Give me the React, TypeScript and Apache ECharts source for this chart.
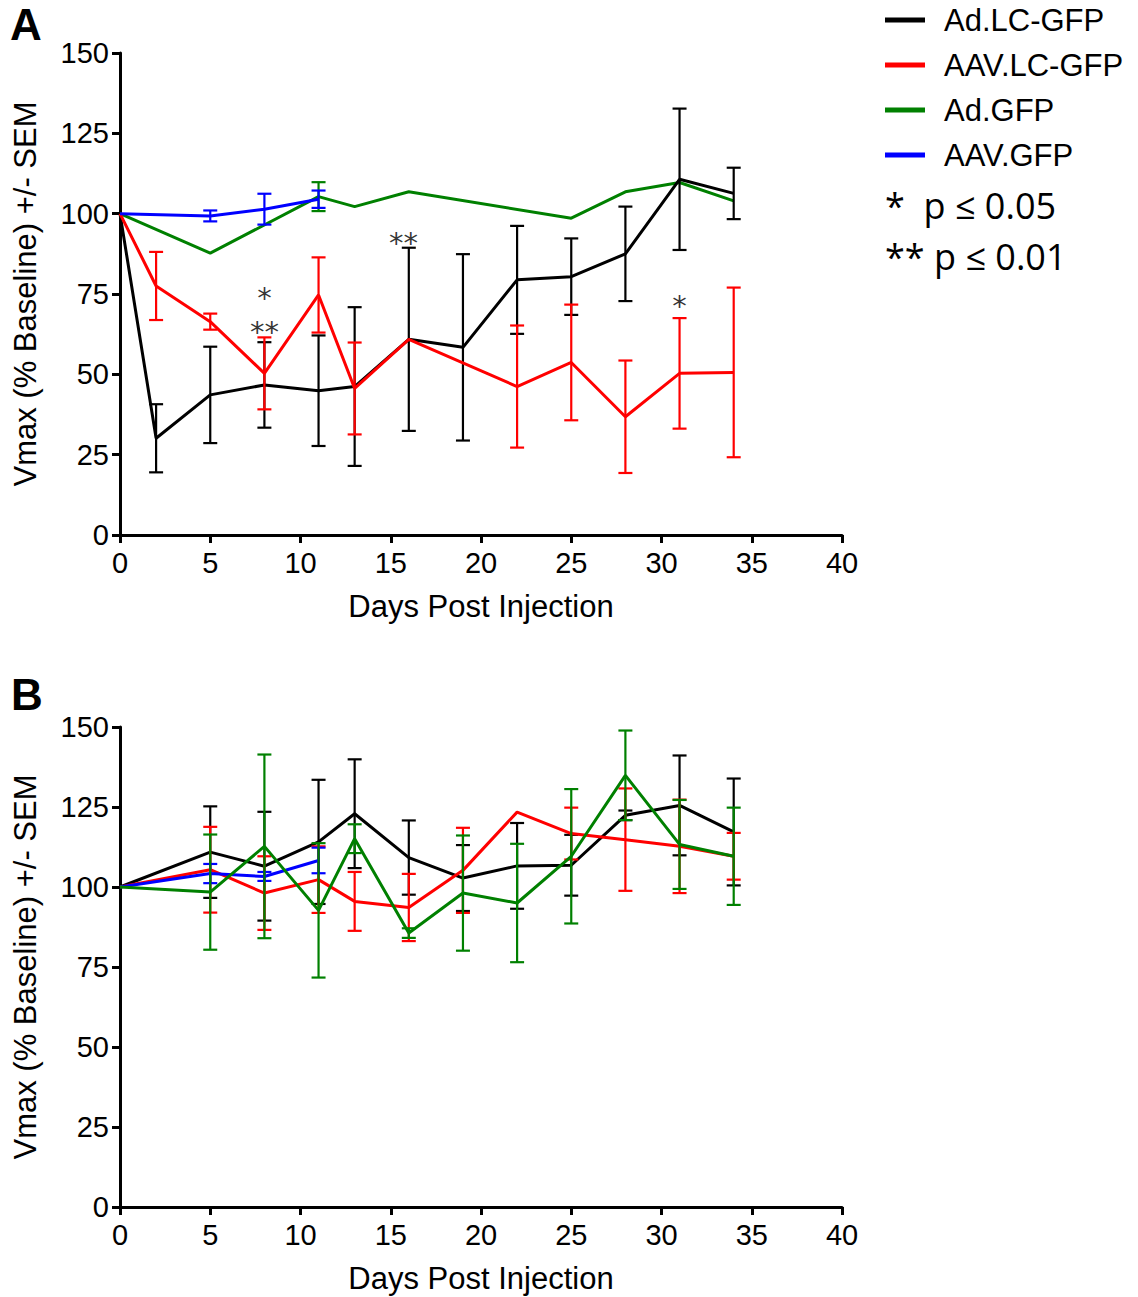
import React, { useEffect, useRef } from 'react';
import * as echarts from 'echarts';

const seriesNames = ['Ad.LC-GFP', 'AAV.LC-GFP', 'Ad.GFP', 'AAV.GFP'];
const seriesColors = ['#000000', '#ff0000', '#008000', '#0000ff'];
const xTicks = { min: 0, max: 40, interval: 5 };
const yTicks = { min: 0, max: 150, interval: 25 };

// ---------- Panel A ----------
const aAdLcDays = [0, 2, 5, 8, 11, 13, 16, 19, 22, 25, 28, 31, 34];
const aAdLcMean = [100, 30.1, 43.6, 46.7, 44.9, 46.2, 60.9, 58.4, 79.4, 80.4, 87.5, 110.7, 106.3];
const aAdLcSem = [null, 10.6, 15, 13.3, 17.2, 24.7, 28.5, 29, 16.8, 11.9, 14.7, 22, 8];

const aAavLcDays = [0, 2, 5, 8, 11, 13, 16, 22, 25, 28, 31, 34];
const aAavLcMean = [100, 77.5, 66.4, 50.3, 74.7, 45.6, 60.9, 46.2, 53.7, 36.8, 50.3, 50.6];
const aAavLcSem = [null, 10.6, 2.5, 11.2, 11.7, 14.3, null, 19, 18, 17.5, 17.2, 26.4];

const aAdGfpDays = [0, 5, 11, 13, 16, 25, 28, 31, 34];
const aAdGfpMean = [100, 87.7, 105.3, 102.2, 106.8, 98.6, 106.8, 109.7, 104.0];
const aAdGfpSem = [null, null, 4.5, null, null, null, null, null, null];

const aAavGfpDays = [0, 5, 8, 11];
const aAavGfpMean = [100, 99.3, 101.4, 104.5];
const aAavGfpSem = [null, 1.7, 4.8, 2.7];

// significance marks, panel A
const aStarDays = [8, 15.7, 31];
const aStarValues = [71.0, 93.4, 73.8];
const aStarTexts = ['*\n**', '**', '*'];

// ---------- Panel B ----------
const bAdLcDays = [0, 5, 8, 11, 13, 16, 19, 22, 25, 28, 31, 34];
const bAdLcMean = [100, 110.9, 106.5, 114.1, 122.9, 109.2, 102.8, 106.6, 106.8, 122.4, 125.5, 117.2];
const bAdLcSem = [null, 14.3, 17, 19.4, 17, 11.6, 10.3, 13.4, 9.5, 1.5, 15.6, 16.7];

const bAavLcDays = [0, 5, 8, 11, 13, 16, 19, 22, 25, 28, 31, 34];
const bAavLcMean = [100, 105.4, 98.1, 102.3, 95.5, 93.6, 105.2, 123.4, 116.7, 114.8, 112.7, 109.6];
const bAavLcSem = [null, 13.4, 11.5, 10.4, 9.2, 10.5, 13.3, null, 8.1, 16, 14.6, 7.3];

const bAdGfpDays = [0, 5, 8, 11, 13, 16, 19, 22, 25, 28, 31, 34];
const bAdGfpMean = [100, 98.4, 112.7, 92.7, 115.1, 85.6, 98.1, 95, 109.6, 134.9, 113.3, 109.6];
const bAdGfpSem = [null, 18, 28.7, 21, 4.5, 1.5, 18, 18.5, 21, 14, 13.9, 15.2];

const bAavGfpDays = [0, 5, 8, 11];
const bAavGfpMean = [100, 104.2, 103.3, 108.3];
const bAavGfpSem = [null, 3, 1.4, 4];

const pLegendTexts = ['*  p \u2264 0.05', '** p \u2264 0.01'];

const FONT = "'Liberation Sans', Arial, sans-serif";
const FONT2 = "'Open Sans', 'Noto Sans', 'DejaVu Sans', sans-serif";
const STAR_FONT = "'DejaVu Sans', 'Liberation Sans', sans-serif";
const TICK_SIZE = 29;
const NAME_SIZE = 31;

function lineData(days: number[], mean: number[]) {
  return days.map((d, i) => [d, mean[i]]);
}
function errData(days: number[], mean: number[], sem: (number | null)[]) {
  const out: number[][] = [];
  days.forEach((d, i) => {
    const s = sem[i];
    if (s != null && s > 0) out.push([d, mean[i] - s, mean[i] + s]);
  });
  return out;
}

function makeErr(color: string, data: number[][], gi: number, z: number) {
  return {
    type: 'custom',
    xAxisIndex: gi,
    yAxisIndex: gi,
    z,
    silent: true,
    encode: { x: 0, y: [1, 2] },
    data,
    renderItem: (params: any, api: any) => {
      const x = api.value(0);
      const top = api.coord([x, api.value(2)]);
      const bot = api.coord([x, api.value(1)]);
      const hw = 7;
      const st = { stroke: color, lineWidth: 2.2 };
      return {
        type: 'group',
        children: [
          { type: 'line', shape: { x1: top[0], y1: top[1], x2: bot[0], y2: bot[1] }, style: st },
          { type: 'line', shape: { x1: top[0] - hw, y1: top[1], x2: top[0] + hw, y2: top[1] }, style: st },
          { type: 'line', shape: { x1: bot[0] - hw, y1: bot[1], x2: bot[0] + hw, y2: bot[1] }, style: st },
        ],
      };
    },
  };
}

function makeLine(idx: number, data: number[][], gi: number, z: number) {
  return {
    type: 'line',
    name: seriesNames[idx],
    xAxisIndex: gi,
    yAxisIndex: gi,
    z,
    data,
    symbol: 'none',
    showSymbol: false,
    lineStyle: { color: seriesColors[idx], width: 3 },
    itemStyle: { color: seriesColors[idx] },
  };
}

function xAxisCfg(gi: number) {
  return {
    type: 'value',
    gridIndex: gi,
    ...xTicks,
    name: 'Days Post Injection',
    nameLocation: 'middle',
    nameGap: 56,
    nameTextStyle: { fontFamily: FONT, fontSize: NAME_SIZE, color: '#000' },
    axisLine: { show: true, onZero: false, lineStyle: { color: '#000', width: 3 } },
    axisTick: { show: true, length: 8, lineStyle: { color: '#000', width: 3 } },
    axisLabel: { fontFamily: FONT, fontSize: TICK_SIZE, color: '#000', margin: 13 },
    splitLine: { show: false },
  };
}
function yAxisCfg(gi: number) {
  return {
    type: 'value',
    gridIndex: gi,
    ...yTicks,
    name: 'Vmax (% Baseline) +/- SEM',
    nameLocation: 'middle',
    nameGap: 79,
    nameTextStyle: { fontFamily: FONT, fontSize: NAME_SIZE, color: '#000' },
    axisLine: { show: true, lineStyle: { color: '#000', width: 3 } },
    axisTick: { show: true, length: 8, lineStyle: { color: '#000', width: 3 } },
    axisLabel: { fontFamily: FONT, fontSize: TICK_SIZE, color: '#000', margin: 11 },
    splitLine: { show: false },
  };
}

function starSeries(gi: number, days: number[], vals: number[], texts: string[]) {
  return {
    type: 'scatter',
    xAxisIndex: gi,
    yAxisIndex: gi,
    symbolSize: 0,
    silent: true,
    z: 20,
    data: days.map((d, i) => ({ value: [d, vals[i]], label: { formatter: texts[i] } })),
    label: {
      show: true,
      position: 'inside',
      fontFamily: STAR_FONT,
      fontSize: 29,
      lineHeight: 34,
      align: 'center',
      color: '#000',
      textBorderWidth: 0,
      textBorderColor: 'transparent',
      offset: [0, 8],
    },
  };
}

export default function App() {
  const ref = useRef<HTMLDivElement>(null);
  useEffect(() => {
    if (!ref.current) return;
    const chart = echarts.init(ref.current, null, { renderer: 'svg' });
    const option: any = {
      animation: false,
      backgroundColor: '#ffffff',
      grid: [
        { left: 120, top: 53, width: 722, height: 482 },
        { left: 120, top: 727, width: 722, height: 480 },
      ],
      xAxis: [xAxisCfg(0), xAxisCfg(1)],
      yAxis: [yAxisCfg(0), yAxisCfg(1)],
      legend: {
        data: seriesNames,
        orient: 'vertical',
        left: 880,
        top: -1,
        icon: 'rect',
        itemWidth: 40,
        itemHeight: 5,
        itemGap: 13,
        textStyle: { fontFamily: FONT, fontSize: NAME_SIZE, color: '#000', lineHeight: 32, padding: [0, 0, 0, 14] },
        selectedMode: false,
      },
      graphic: [
        { type: 'text', left: 10, top: 2, style: { text: 'A', fontFamily: FONT, fontWeight: 'bold', fontSize: 44, fill: '#000' } },
        { type: 'text', left: 11, top: 672, style: { text: 'B', fontFamily: FONT, fontWeight: 'bold', fontSize: 44, fill: '#000' } },
        { type: 'text', left: 885, top: 187, style: { text: pLegendTexts[0], fontFamily: FONT2, fontSize: 36, fill: '#000' } },
        { type: 'text', left: 885, top: 238, style: { text: pLegendTexts[1], fontFamily: FONT2, fontSize: 36, fill: '#000' } },
      ],
      series: [
        // panel A
        makeErr(seriesColors[2], errData(aAdGfpDays, aAdGfpMean, aAdGfpSem), 0, 2),
        makeLine(2, lineData(aAdGfpDays, aAdGfpMean), 0, 2),
        makeErr(seriesColors[0], errData(aAdLcDays, aAdLcMean, aAdLcSem), 0, 3),
        makeLine(0, lineData(aAdLcDays, aAdLcMean), 0, 3),
        makeErr(seriesColors[1], errData(aAavLcDays, aAavLcMean, aAavLcSem), 0, 4),
        makeLine(1, lineData(aAavLcDays, aAavLcMean), 0, 4),
        makeErr(seriesColors[3], errData(aAavGfpDays, aAavGfpMean, aAavGfpSem), 0, 5),
        makeLine(3, lineData(aAavGfpDays, aAavGfpMean), 0, 5),
        starSeries(0, aStarDays, aStarValues, aStarTexts),
        // panel B
        makeErr(seriesColors[0], errData(bAdLcDays, bAdLcMean, bAdLcSem), 1, 2),
        makeLine(0, lineData(bAdLcDays, bAdLcMean), 1, 2),
        makeErr(seriesColors[1], errData(bAavLcDays, bAavLcMean, bAavLcSem), 1, 3),
        makeLine(1, lineData(bAavLcDays, bAavLcMean), 1, 3),
        makeErr(seriesColors[3], errData(bAavGfpDays, bAavGfpMean, bAavGfpSem), 1, 4),
        makeLine(3, lineData(bAavGfpDays, bAavGfpMean), 1, 4),
        makeErr(seriesColors[2], errData(bAdGfpDays, bAdGfpMean, bAdGfpSem), 1, 5),
        makeLine(2, lineData(bAdGfpDays, bAdGfpMean), 1, 5),
      ],
    };
    chart.setOption(option);
    return () => chart.dispose();
  }, []);
  return (
    <div
      ref={ref}
      style={{ position: 'absolute', left: 0, top: 0, width: 1138, height: 1297, background: '#fff' }}
    />
  );
}
